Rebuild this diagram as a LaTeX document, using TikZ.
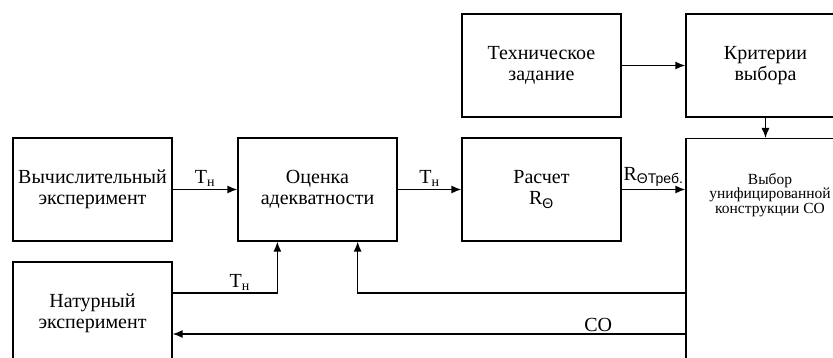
\documentclass[tikz,border=0pt]{standalone}
\usepackage{fontspec}
\setmainfont{Liberation Serif}
\setsansfont{Liberation Sans}
\usepackage{tikz}
\usetikzlibrary{positioning, arrows.meta, calc}

\newcommand{\Tsub}{Т\textsubscript{н}}

\begin{document}
\begin{tikzpicture}[x=1pt, y=-1pt,
		blok/.style={draw, line width=1.3pt, minimum width=159pt, minimum height=103pt, align=center, inner sep=0pt, font=\fontsize{20}{21}\selectfont},
		arr/.style={line width=1.3pt, -{Latex[length=10pt,width=8pt]}},
		lbl/.style={font=\fontsize{20}{21}\selectfont, inner sep=2pt}]
		\useasboundingbox (0,0) rectangle (833,358);
		\node[blok] (vych) at (92.5,189.5) {Вычислительный\\эксперимент};
		\node[blok] (ocen) at (317.5,189.5) {Оценка\\адекватности};
		\node[blok] (rasch) at (541.5,189.5) {Расчет\\R\textsubscript{\sffamily Θ}};
		\node[blok] (tz) at (541.5,65.5) {Техническое\\задание};
		\node[blok] (krit) at (765.5,65.5) {Критерии\\выбора};
		\node[blok] (natur) at (92.5,313.5) {Натурный\\эксперимент};
		\node[blok, minimum height=262pt, anchor=north] (vybor) at (765.5,138) {};
		\node[align=center, font=\fontsize{15.5}{14.5}\selectfont] (vybortxt) at (770,195) {Выбор\\унифицированной\\конструкции СО};
		\coordinate (tnat) at ([yshift=20.5pt]natur.east);
		\coordinate (cnat) at ([yshift=-20.5pt]natur.east);

		\draw[arr] (vych) -- node[lbl, above] {\Tsub} (ocen);
		\draw[arr] (ocen) -- node[lbl, above] {\Tsub} (rasch);
		\draw[arr] (rasch) -- node[lbl, above] {R\textsubscript{\sffamily ΘТреб.}} (rasch -| vybor.west);
		\draw[arr] (tz) -- (krit);
		\draw[arr] (krit) -- (vybor);
		\draw[arr] (tnat) -| node[lbl, above, pos=0.32] {\Tsub} ([xshift=40pt]ocen.south west);
		\draw[arr] (tnat -| vybor.west) -| ([xshift=-40pt]ocen.south east);
		\draw[arr] (cnat -| vybor.west) -- node[lbl, above, pos=0.17] {СО} (cnat);
	\end{tikzpicture}
\end{document}
